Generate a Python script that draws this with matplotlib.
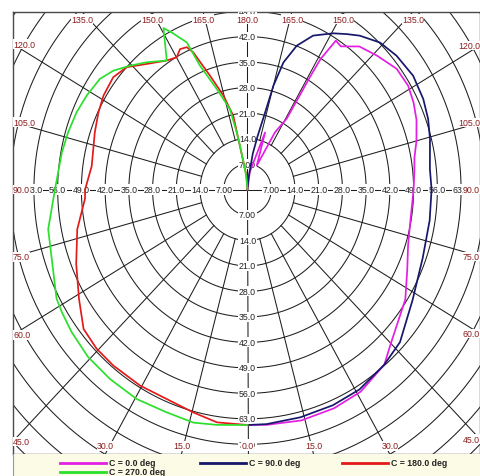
import numpy as np
import matplotlib.pyplot as plt

# кривые силы света по C-плоскостям: угол гамма (град) и значение
GAMMA_C0 = [0, 5, 14, 23, 31, 40, 45, 57, 65, 72, 80, 90, 96, 100, 105, 111, 116, 121,
            127, 134, 140, 145, 147.5, 148, 149, 149.2, 149.2, 149.3, 152.7, 157.4,
            161.7, 172, 180]
I_C0 = [64.7, 64.9, 65.4, 65.3, 64.8, 62.8, 59.8, 55.5, 52.0, 49.8, 48.8, 49.0, 49.5,
        50.0, 51.6, 53.4, 54.5, 55.3, 55.1, 53.0, 51.3, 48.0, 48.5, 46.0, 41.8, 35.9,
        30.0, 22.6, 17.7, 7.1, 16.5, 4.9, 0.0]

GAMMA_C90 = [0, 5, 14, 23, 31, 40, 47, 58, 70, 81, 90, 96, 104.5, 110, 115.6, 122.6,
             129.9, 135.9, 141.9, 145.5, 149.5, 155.4, 159.8, 163.1, 165, 166.2, 168.5,
             171, 175, 180]
I_C90 = [64.7, 64.7, 64.5, 64.4, 64.1, 62.8, 61.5, 57.4, 55.0, 54.4, 54.3, 54.1, 55.6,
         56.7, 57.5, 58.0, 57.3, 56.2, 53.7, 51.8, 49.8, 46.5, 42.1, 36.5, 29.5, 21.8,
         15.0, 10.0, 3.0, 0.0]

GAMMA_C180 = [0, 8, 14.6, 22.5, 30.5, 39.3, 45.5, 51.6, 58.8, 68, 77.7, 87, 90, 98,
              109.2, 115.7, 121.3, 127.9, 133.3, 139.3, 146.1, 150.1, 152.7, 155.4, 157,
              160.5, 164.6, 168.3, 169, 175, 180]
I_C180 = [64.7, 64.6, 63.3, 62.3, 62.5, 62.5, 62.4, 61.7, 58.1, 54.5, 51.4, 48.0, 47.9,
          46.4, 47.7, 48.8, 49.7, 50.2, 49.0, 45.5, 42.7, 41.9, 43.4, 43.0, 40.9, 33.2,
          26.8, 20.7, 14.2, 4.0, 0.0]

GAMMA_C270 = [0, 8, 14, 21.3, 29.6, 37.9, 45.6, 53, 58.4, 62, 79.5, 90, 100.5, 106.5,
              112.8, 118.6, 124.9, 129.5, 134.4, 139.6, 146.1, 150.8, 152.6, 156.1, 157.6,
              161.8, 166.8, 168.5, 169.6, 174, 180]
I_C270 = [64.7, 65.3, 66.0, 65.7, 66.2, 66.0, 65.8, 65.0, 64.3, 63.8, 59.8, 56.8, 55.7,
          55.2, 54.7, 54.0, 53.1, 51.3, 48.6, 45.9, 42.7, 50.8, 48.6, 44.2, 36.8, 29.1,
          22.7, 16.0, 12.2, 4.0, 0.0]

PLANE_NAMES = ['C = 0.0 deg', 'C = 90.0 deg', 'C = 180.0 deg', 'C = 270.0 deg']
PLANE_COLORS = ['#E31FE3', '#17176B', '#E21A1A', '#2BE02B']
PLANE_SIDE = [1, 1, -1, -1]  # справа C0/C90, слева C180/C270

RING_STEP = 7.0
ANGLE_LABELS = list(range(0, 181, 15))

# геометрия картинки в пикселях
W, H = 481, 477
CX, CY = 247.5, 190.5
SX, SY = 3.39, 3.64
LEFT, RIGHT, TOP, BOTTOM = 13, 480, 12.7, 455

GRID_COLOR = '#1e1e1e'
LABEL_RED = '#8c1c1c'


def ring_label(v):
    return '7.00' if v < 10 else f'{v:.1f}'


def draw_grid(ax):
    t = np.linspace(0, 2 * np.pi, 721)
    for k in range(1, 16):
        r = RING_STEP * k
        ax.plot(r * np.sin(t), r * np.cos(t), color=GRID_COLOR, lw=0.75, zorder=1)
    for a in range(0, 360, 15):
        r0 = 0 if a % 90 == 0 else 2 * RING_STEP
        ar = np.radians(a)
        ax.plot([r0 * np.sin(ar), 200 * np.sin(ar)], [r0 * np.cos(ar), 200 * np.cos(ar)],
                color=GRID_COLOR, lw=0.75, zorder=1)


def draw_axis_labels(ax):
    box = dict(facecolor='white', edgecolor='none', pad=0.4)
    kw = dict(fontsize=6.3, family='Liberation Sans', color='#222222',
              ha='center', va='center', bbox=box, zorder=3, clip_on=True)
    for k in range(1, 10):
        v = RING_STEP * k
        ax.text(v, 0, ring_label(v), **kw)
        ax.text(-v, 0, ring_label(v), **kw)
    for k in range(1, 8):
        v = RING_STEP * k
        ax.text(0, v, ring_label(v), **kw)
    for k in range(1, 11):
        v = RING_STEP * k
        ax.text(0, -v, ring_label(v), **kw)


def draw_angle_labels(ax, x0, x1, y0, y1):
    box = dict(facecolor='white', edgecolor='none', pad=0.2)
    for g in ANGLE_LABELS:
        sides = [1] if g in (0, 180) else [1, -1]
        for s in sides:
            dx = s * np.sin(np.radians(g))
            dy = -np.cos(np.radians(g))
            ts = []
            if dx > 1e-9:
                ts.append((x1 / dx, 'right'))
            if dx < -1e-9:
                ts.append((x0 / dx, 'left'))
            if dy > 1e-9:
                ts.append((y1 / dy, 'top'))
            if dy < -1e-9:
                ts.append((y0 / dy, 'bottom'))
            t, edge = min(ts, key=lambda p: p[0])
            x, y = t * dx, t * dy
            ha, va = 'center', 'center'
            if edge == 'right':
                ha = 'right'
            elif edge == 'left':
                ha = 'left'
            elif edge == 'top':
                va = 'top'
                y -= 0.8
            else:
                va = 'bottom'
                y += 1.0
            ax.text(x, y, f'{g:.1f}', fontsize=6.3, family='Liberation Sans',
                    color=LABEL_RED, ha=ha, va=va, bbox=box, zorder=3)


def main():
    fig = plt.figure(figsize=(W / 100, H / 100), dpi=100)
    ax = fig.add_axes([LEFT / W, 1 - BOTTOM / H, (RIGHT - LEFT) / W, (BOTTOM - TOP) / H])
    x0, x1 = (LEFT - CX) / SX, (RIGHT - CX) / SX
    y0, y1 = (CY - BOTTOM) / SY, (CY - TOP) / SY
    ax.set_xlim(x0, x1)
    ax.set_ylim(y0, y1)
    ax.set_xticks([])
    ax.set_yticks([])
    for sp in ax.spines.values():
        sp.set_color('#4a4a4a')
        sp.set_linewidth(1.0)

    draw_grid(ax)
    draw_axis_labels(ax)
    draw_angle_labels(ax, x0, x1, y0, y1)

    planes = [(GAMMA_C0, I_C0), (GAMMA_C90, I_C90), (GAMMA_C180, I_C180), (GAMMA_C270, I_C270)]
    for (g, i), color, side in zip(planes, PLANE_COLORS, PLANE_SIDE):
        g = np.radians(np.array(g))
        i = np.array(i)
        ax.plot(side * i * np.sin(g), -i * np.cos(g), color=color, lw=1.25,
                solid_joinstyle='round', zorder=4)

    # легенда на светлой подложке под диаграммой
    lg = fig.add_axes([LEFT / W, 0, (RIGHT - LEFT) / W, (H - BOTTOM) / H])
    lg.set_facecolor('#fcfbe6')
    lg.set_xlim(LEFT, RIGHT)
    lg.set_ylim(H, BOTTOM)
    lg.set_xticks([])
    lg.set_yticks([])
    for name in ('top', 'right', 'bottom'):
        lg.spines[name].set_visible(False)
    lg.spines['left'].set_color('#9a9a9a')
    slots = [(60, 464), (200, 464), (342, 464), (60, 473)]
    for (lx, ly), name, color in zip(slots, PLANE_NAMES, PLANE_COLORS):
        lg.plot([lx, lx + 46], [ly, ly], color=color, lw=2.0, clip_on=False)
        lg.text(lx + 49, ly, name, fontsize=6.3, family='Liberation Sans', weight='bold',
                color='#222222', ha='left', va='center', clip_on=True)

    fig.savefig('out.png', dpi=100)


if __name__ == '__main__':
    main()
